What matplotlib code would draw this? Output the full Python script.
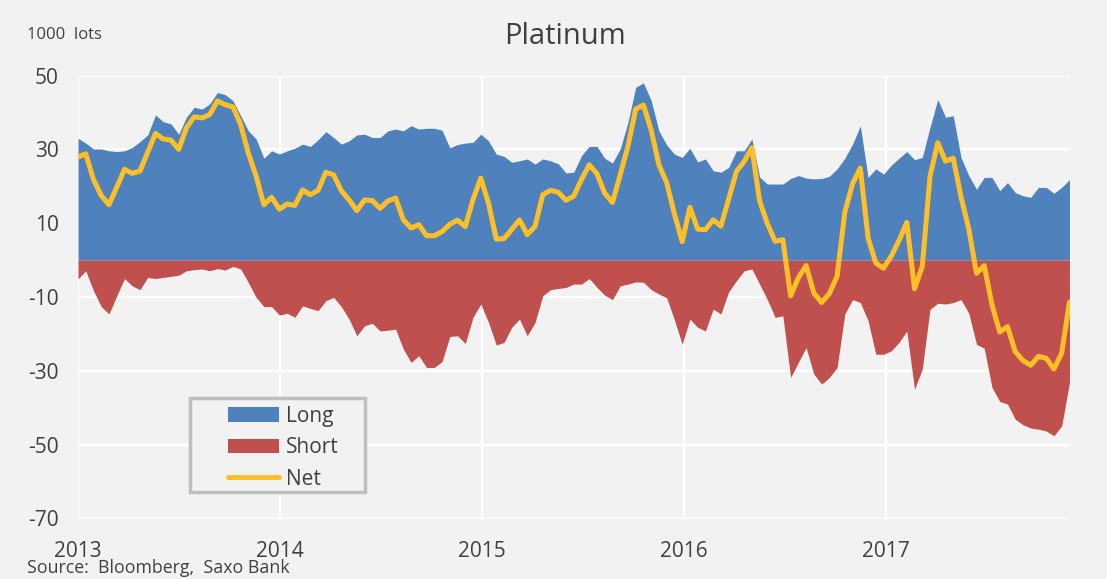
import matplotlib
matplotlib.use("Agg")
import matplotlib.pyplot as plt
from matplotlib.patches import Rectangle, Patch
from matplotlib.lines import Line2D
import numpy as np
import pandas as pd

# ---- data (1000 lots), bi-weekly readings ----
start_date = "2013-01-01"
long_vals = [33.0, 31.7, 30.1, 30.1, 29.6, 29.4, 29.6, 30.5, 32.1, 33.9,
             39.3, 37.5, 36.9, 34.1, 38.7, 41.4, 40.9, 42.3, 45.4, 44.8,
             43.2, 39.1, 35.0, 32.8, 27.6, 29.6, 28.7, 29.6, 30.3, 31.4,
             30.8, 32.6, 34.8, 33.2, 31.4, 32.3, 33.9, 34.1, 33.2, 33.2,
             35.0, 35.5, 35.0, 36.4, 35.5, 35.7, 35.7, 35.2, 30.4, 31.3,
             31.7, 31.9, 34.1, 32.3, 28.7, 28.1, 26.5, 26.9, 27.4, 26.0,
             27.4, 26.9, 26.1, 23.6, 23.8, 28.3, 30.8, 30.8, 27.6, 26.3,
             30.1, 37.3, 46.8, 48.0, 43.2, 35.0, 31.2, 28.7, 27.8, 30.3,
             26.6, 27.4, 24.2, 23.8, 25.1, 29.6, 29.6, 32.8, 22.5, 20.6,
             20.6, 20.6, 22.1, 22.9, 22.2, 22.0, 22.1, 22.7, 24.7, 27.6,
             31.4, 36.4, 22.4, 24.7, 23.3, 25.7, 27.6, 29.4, 27.2, 27.8,
             36.0, 43.5, 38.7, 39.1, 27.8, 22.9, 19.2, 22.4, 22.4, 18.8,
             21.0, 18.3, 17.4, 17.0, 19.7, 19.7, 18.1, 19.7, 21.8]
short_vals = [-5.1, -2.9, -8.3, -12.6, -14.6, -9.7, -5.0, -7.0, -8.0, -4.7,
              -5.0, -4.7, -4.4, -4.1, -2.9, -2.6, -2.4, -2.9, -2.3, -2.7,
              -1.7, -2.4, -6.1, -10.1, -12.6, -12.6, -14.9, -14.4, -15.5, -12.4,
              -13.1, -13.7, -11.0, -10.1, -12.6, -16.0, -20.5, -17.8, -17.1, -19.2,
              -19.0, -18.7, -24.1, -27.7, -25.9, -29.1, -29.1, -27.5, -20.7, -20.5,
              -22.6, -15.5, -11.9, -16.9, -23.0, -22.3, -18.2, -16.0, -20.5, -16.9,
              -9.7, -8.0, -7.7, -7.4, -6.5, -6.5, -5.0, -7.4, -9.5, -10.7,
              -7.0, -6.5, -5.9, -6.0, -8.0, -9.2, -10.2, -16.2, -22.8, -16.0,
              -18.2, -19.2, -13.3, -14.6, -8.6, -5.6, -2.9, -2.4, -6.5, -10.7,
              -15.5, -15.1, -31.8, -27.7, -23.7, -30.9, -33.6, -31.8, -29.1, -14.6,
              -10.7, -11.5, -16.4, -25.5, -25.5, -24.6, -22.3, -19.2, -35.0, -29.5,
              -13.3, -11.7, -11.9, -11.5, -10.7, -14.4, -22.8, -23.9, -34.5, -38.3,
              -39.0, -43.1, -44.6, -45.5, -45.8, -46.3, -47.6, -44.9, -33.2]
series_names = ["Long", "Short", "Net"]
y_ticks = [50, 30, 10, -10, -30, -50, -70]
x_years = ["2013", "2014", "2015", "2016", "2017"]

dates = pd.date_range(start_date, periods=len(long_vals), freq="14D")
long_arr = np.array(long_vals)
short_arr = np.array(short_vals)
net_arr = long_arr + short_arr

# ---- style ----
BG = "#F2F2F2"
BLUE = "#4F81BD"
RED = "#C0504D"
GOLD = "#FFC027"
TXT = "#404040"
plt.rcParams["font.family"] = ["Open Sans", "DejaVu Sans"]

fig = plt.figure(figsize=(11.07, 5.79), dpi=100, facecolor=BG)
ax = fig.add_axes([78 / 1107, 1 - 518.5 / 579, (1070 - 78) / 1107, (518.5 - 75.5) / 579])
ax.set_facecolor(BG)

ax.fill_between(dates, 0, long_arr, color=BLUE, linewidth=0, zorder=2)
ax.fill_between(dates, short_arr, 0, color=RED, linewidth=0, zorder=2)
ax.plot(dates, net_arr, color=GOLD, linewidth=3.6, solid_capstyle="round",
        solid_joinstyle="round", zorder=3)

ax.set_ylim(-70, 50)
ax.set_yticks(y_ticks)
ax.set_yticklabels([str(v) for v in y_ticks])
year_ticks = [pd.Timestamp(f"{y}-01-01") for y in x_years]
ax.set_xticks(year_ticks)
ax.set_xticklabels(x_years)
ax.set_xlim(dates[0], dates[-1] + pd.Timedelta(days=1))

ax.grid(True, color="white", linewidth=1.6, zorder=1)
ax.set_axisbelow(True)
for s in ax.spines.values():
    s.set_visible(False)
ax.tick_params(axis="both", length=0, colors=TXT, labelsize=15)
ax.tick_params(axis="y", pad=14)
ax.tick_params(axis="x", pad=16)

# legend
frame = Rectangle((0.113, 0.06), 0.176, 0.212, transform=ax.transAxes,
                  facecolor=BG, edgecolor="#BFBFBF", linewidth=2.5, zorder=5)
ax.add_patch(frame)
handles = [Patch(facecolor=BLUE, edgecolor="none"),
           Patch(facecolor=RED, edgecolor="none"),
           Line2D([0], [0], color=GOLD, linewidth=3.6, solid_capstyle="round")]
leg = ax.legend(handles, series_names, loc="upper left",
                bbox_to_anchor=(0.147, 0.264), frameon=False, fontsize=15,
                handlelength=2.45, handleheight=0.7, handletextpad=0.35,
                labelspacing=0.5, borderpad=0.2, borderaxespad=0)
leg.set_zorder(6)
for t in leg.get_texts():
    t.set_color(TXT)

fig.text(565 / 1107, 1 - 37 / 579, "Platinum", ha="center", va="center",
         fontsize=21, color=TXT)
fig.text(27 / 1107, 1 - 35 / 579, "1000  lots", ha="left", va="center",
         fontsize=12, color=TXT)
fig.text(27 / 1107, 1 - 568 / 579, "Source:  Bloomberg,  Saxo Bank", ha="left",
         va="center", fontsize=12.8, color=TXT)

fig.savefig("out.png", dpi=100, facecolor=BG)
